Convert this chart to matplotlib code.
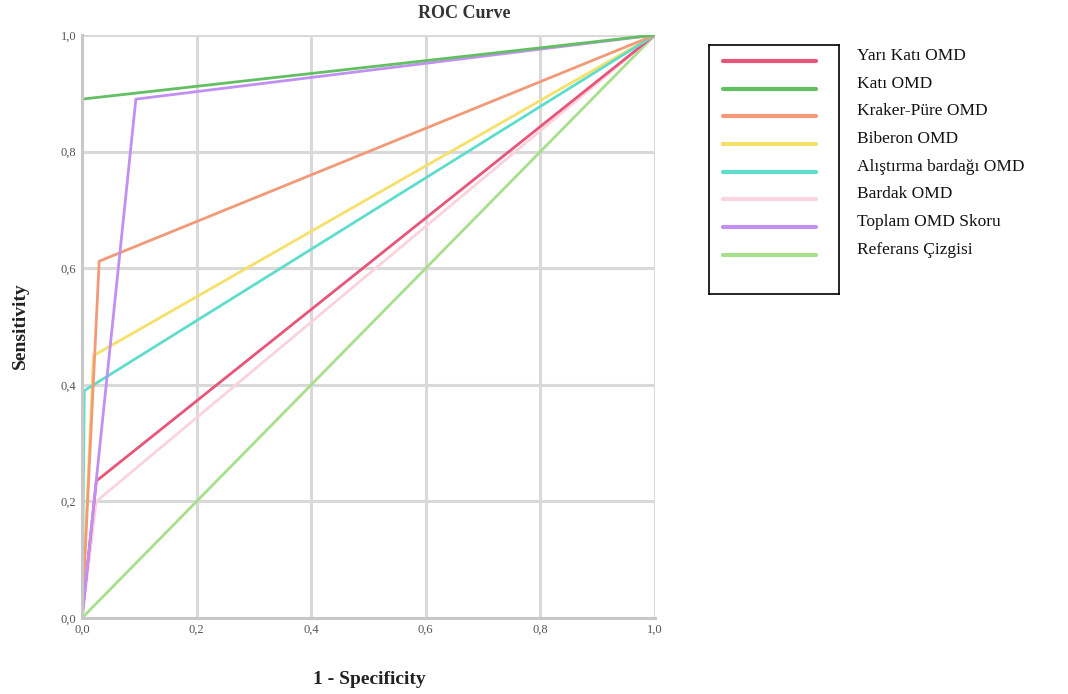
import numpy as np
import matplotlib
matplotlib.use("Agg")
import matplotlib.pyplot as plt

plt.rcParams['font.family'] = ['Liberation Serif', 'DejaVu Serif']

# ROC points (1 - specificity, sensitivity) for each predictor
labels = ["Yarı Katı OMD", "Katı OMD", "Kraker-Püre OMD", "Biberon OMD",
          "Alıştırma bardağı OMD", "Bardak OMD", "Toplam OMD Skoru",
          "Referans Çizgisi"]
fpr = [
    [0.0, 0.025, 1.0],
    [0.0, 0.0, 1.0],
    [0.0, 0.03, 1.0],
    [0.0, 0.02, 1.0],
    [0.0, 0.004, 1.0],
    [0.0, 0.025, 1.0],
    [0.0, 0.094, 1.0],
    [0.0, 1.0],
]
tpr = [
    [0.0, 0.235, 1.0],
    [0.0, 0.89, 1.0],
    [0.0, 0.612, 1.0],
    [0.0, 0.45, 1.0],
    [0.0, 0.39, 1.0],
    [0.0, 0.20, 1.0],
    [0.0, 0.89, 1.0],
    [0.0, 1.0],
]
colors = ["#e6557a", "#62c062", "#f29a78", "#f5e06a", "#5fdccc",
          "#fbd3de", "#c190f2", "#a6e08c"]
ticks = [0.0, 0.2, 0.4, 0.6, 0.8, 1.0]
tick_labels = ["0,0", "0,2", "0,4", "0,6", "0,8", "1,0"]

fig = plt.figure(figsize=(10.68, 6.94), dpi=100)
ax = fig.add_axes([82/1068, 76/694, 573/1068, 583/694])

# draw reference first so the curves sit on top
order = [7, 5, 0, 3, 4, 2, 6, 1]
for i in order:
    ax.plot(fpr[i], tpr[i], color=colors[i], lw=2, solid_capstyle='butt')

ax.set_xlim(0, 1)
ax.set_ylim(0, 1)
ax.set_xticks(ticks)
ax.set_xticklabels(tick_labels)
ax.set_yticks(ticks)
ax.set_yticklabels(tick_labels)
ax.tick_params(length=0, labelsize=9, colors="#555555", pad=4)
ax.grid(True, color="#d9d9d9", lw=2.2)
ax.set_axisbelow(True)
for s in ["top", "right"]:
    ax.spines[s].set_visible(False)
for s in ["left", "bottom"]:
    ax.spines[s].set_color("#c8c8c8")
    ax.spines[s].set_linewidth(2.2)

fig.text(464/1068, 1 - 14/694, "ROC Curve", fontsize=13, fontweight="bold",
         color="#333333", ha="center", va="center")
fig.text(369/1068, 1 - 680/694, "1 - Specificity", fontsize=14, fontweight="bold",
         color="#222222", ha="center", va="center")
fig.text(20/1068, 1 - 326/694, "Sensitivity", fontsize=14, fontweight="bold",
         color="#222222", ha="center", va="center", rotation=90)

# legend: framed box with line samples, labels outside to the right
lax = fig.add_axes([709/1068, (694-294)/694, 130/1068, 249/694])
lax.set_xlim(0, 130)
lax.set_ylim(249, 0)
lax.set_xticks([])
lax.set_yticks([])
for s in lax.spines.values():
    s.set_color("black")
    s.set_linewidth(1.2)
for k, lab in enumerate(labels):
    y = 16 + k * 27.7
    lax.plot([14, 107], [y, y], color=colors[k], lw=3, solid_capstyle='round')
    lax.text(148, y - 5, lab, fontsize=12.5, color="#111111", va="center",
             ha="left", clip_on=False)

fig.savefig("out.png", dpi=100)
